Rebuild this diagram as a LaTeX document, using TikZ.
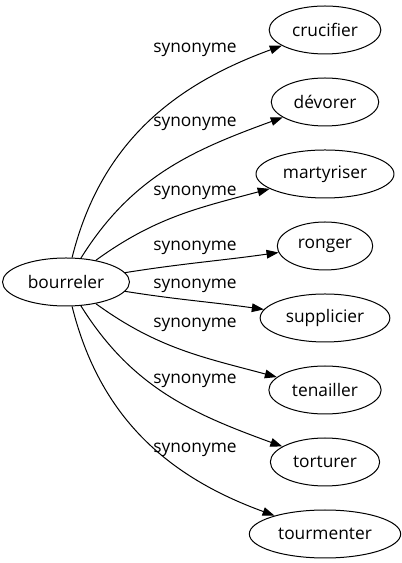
\documentclass[tikz,border=0pt]{standalone}
\usepackage{fontspec}
\setmainfont{Open Sans}
\usetikzlibrary{arrows.meta,shapes.geometric}

\begin{document}
\begin{tikzpicture}[x=0.75pt,y=0.75pt,
    word/.style={font=\fontsize{13}{16}\selectfont,ellipse,draw,line width=0.75pt,minimum height=36pt,inner xsep=5pt,inner ysep=1pt},
    relation/.style={-{Triangle[length=9pt,width=6.5pt]},line width=0.75pt},
    relation label/.style={font=\fontsize{13}{16}\selectfont,inner sep=0pt}]
  \useasboundingbox (0,0) rectangle (402,563);
  \node[word] (bourreler) at (66,281) {bourreler};
  \node[word] (word 1) at (325,533) {crucifier};
  \node[word,anchor=north] (word 2) at ([yshift=-17.25pt]word 1.south) {dévorer};
  \node[word,anchor=north] (word 3) at ([yshift=-17.25pt]word 2.south) {martyriser};
  \node[word,anchor=north] (word 4) at ([yshift=-17.25pt]word 3.south) {ronger};
  \node[word,anchor=north] (word 5) at ([yshift=-17.25pt]word 4.south) {supplicier};
  \node[word,anchor=north] (word 6) at ([yshift=-17.25pt]word 5.south) {tenailler};
  \node[word,anchor=north] (word 7) at ([yshift=-17.25pt]word 6.south) {torturer};
  \node[word,anchor=north] (word 8) at ([yshift=-17.25pt]word 7.south) {tourmenter};
  \node[relation label] (label 1) at (195,513) {synonyme};
  \node[relation label] (label 2) at (195,439) {synonyme};
  \node[relation label] (label 3) at (195,370) {synonyme};
  \node[relation label] (label 4) at (195,315) {synonyme};
  \node[relation label] (label 5) at (195,277) {synonyme};
  \node[relation label] (label 6) at (195,238) {synonyme};
  \node[relation label] (label 7) at (195,182) {synonyme};
  \node[relation label] (label 8) at (195,113) {synonyme};
  \draw[relation] (bourreler) to[out=76,in=200] (word 1);
  \draw[relation] (bourreler) to[out=58,in=200] (word 2);
  \draw[relation] (bourreler) to[out=36,in=195] (word 3);
  \draw[relation] (bourreler) to[out=9,in=188] (word 4);
  \draw[relation] (bourreler) to[out=-9,in=172] (word 5);
  \draw[relation] (bourreler) to[out=-36,in=165] (word 6);
  \draw[relation] (bourreler) to[out=-58,in=160] (word 7);
  \draw[relation] (bourreler) to[out=-76,in=160] (word 8);
\end{tikzpicture}
\end{document}
